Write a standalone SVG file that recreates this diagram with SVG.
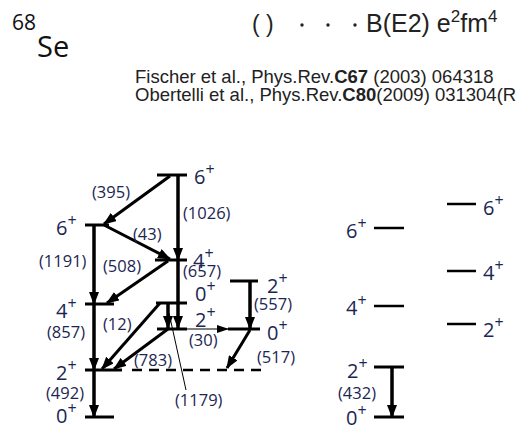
<svg xmlns="http://www.w3.org/2000/svg" width="523" height="428" viewBox="0 0 523 428">
<defs>
<marker id="ah" markerUnits="userSpaceOnUse" markerWidth="13" markerHeight="10" refX="12" refY="5" orient="auto"><path d="M0,0 L13,5 L0,10 z" fill="#000"/></marker>
<marker id="ahs" markerUnits="userSpaceOnUse" markerWidth="12" markerHeight="8" refX="11" refY="4" orient="auto"><path d="M0,0 L12,4 L0,8 z" fill="#000"/></marker>
</defs>
<style>
.lv{stroke:#000;stroke-width:3;fill:none}
.lt{stroke:#000;stroke-width:2.5;fill:none}
.tr{stroke:#000;stroke-width:3.5;fill:none}
.dg{stroke:#000;stroke-width:3;fill:none}
.th{stroke:#000;stroke-width:1;fill:none}
.sp{font-family:"Open Sans","DejaVu Sans",sans-serif;font-size:20px;fill:#1c2652}
.sup{font-size:16px}
.e{font-family:"Open Sans","DejaVu Sans",sans-serif;font-size:16.5px;fill:#1c2652}
.hd{font-family:"Liberation Sans",Arial,sans-serif;fill:#222}
</style>
<g id="header">
<text x="12" y="30" style="font-family:'Open Sans','DejaVu Sans',sans-serif;font-size:21px;fill:#111">68</text>
<text x="37" y="57" style="font-family:'Open Sans','DejaVu Sans',sans-serif;font-size:29px;fill:#111">Se</text>
<text class="hd" x="252" y="32" font-size="23">(  )</text>
<circle cx="302" cy="25" r="1.7" fill="#222"/>
<circle cx="328" cy="25" r="1.7" fill="#222"/>
<circle cx="355" cy="25" r="1.7" fill="#222"/>
<text class="hd" x="366" y="32" font-size="25">B(E2) e<tspan font-size="17" dy="-10">2</tspan><tspan dy="10">fm</tspan><tspan font-size="17" dy="-10">4</tspan></text>
<text class="hd" x="135" y="83" font-size="18.5">Fischer et al., Phys.Rev.<tspan font-weight="bold">C67</tspan> (2003) 064318</text>
<text class="hd" x="135" y="101" font-size="18.5">Obertelli et al., Phys.Rev.<tspan font-weight="bold">C80</tspan>(2009) 031304(R</text>
</g>
<g id="levels-exp">
<line class="lv" x1="157" y1="175" x2="187" y2="175"/>
<line class="lv" x1="85" y1="225" x2="109" y2="225"/>
<line class="lv" x1="155" y1="260" x2="187" y2="260"/>
<line class="lv" x1="85" y1="304" x2="114" y2="304"/>
<line class="lv" x1="156" y1="303" x2="187" y2="303"/>
<line class="lv" x1="157" y1="329" x2="187" y2="329"/>
<line class="lv" x1="228" y1="329" x2="260" y2="329"/>
<line class="lv" x1="230" y1="281" x2="258" y2="281"/>
<line class="lv" x1="85" y1="370" x2="122" y2="370"/>
<line class="lt" x1="132" y1="370" x2="262" y2="370" stroke-dasharray="10,7"/>
<line class="lv" x1="85" y1="417" x2="114" y2="417"/>
</g>
<g id="levels-theory1">
<line class="lt" x1="374" y1="228" x2="404" y2="228"/>
<line class="lt" x1="374" y1="306" x2="404" y2="306"/>
<line class="lv" x1="374" y1="367" x2="404" y2="367"/>
<line class="lv" x1="374" y1="417" x2="404" y2="417"/>
</g>
<g id="levels-theory2">
<line class="lt" x1="447" y1="204" x2="476" y2="204"/>
<line class="lt" x1="447" y1="271" x2="476" y2="271"/>
<line class="lt" x1="447" y1="324" x2="476" y2="324"/>
</g>
<g id="connectors">
<line class="tr" x1="178" y1="175" x2="178" y2="260" marker-end="url(#ah)"/>
<line class="dg" x1="170" y1="176" x2="104" y2="224" marker-end="url(#ah)"/>
<line class="dg" x1="104" y1="225" x2="170" y2="259" marker-end="url(#ah)"/>
<line class="dg" x1="168" y1="261" x2="107" y2="303" marker-end="url(#ah)"/>
<line class="tr" x1="94" y1="225" x2="94" y2="304" marker-end="url(#ah)"/>
<line class="tr" x1="94" y1="304" x2="94" y2="370" marker-end="url(#ah)"/>
<line class="tr" x1="94" y1="370" x2="94" y2="417" marker-end="url(#ah)"/>
<line class="tr" x1="178" y1="260" x2="178" y2="328" marker-end="url(#ah)"/>
<line class="tr" x1="168" y1="303" x2="168" y2="328" marker-end="url(#ah)"/>
<line class="dg" x1="160" y1="303" x2="102" y2="369" marker-end="url(#ah)"/>
<line class="dg" x1="168" y1="329" x2="114" y2="369" marker-end="url(#ah)"/>
<line class="th" x1="187" y1="329" x2="228" y2="329" marker-end="url(#ahs)"/>
<line class="tr" x1="250" y1="281" x2="250" y2="329" marker-end="url(#ah)"/>
<line class="dg" x1="250" y1="330" x2="227" y2="368" marker-end="url(#ah)"/>
<line class="tr" x1="392" y1="367" x2="392" y2="417" marker-end="url(#ah)"/>
<line class="th" x1="169" y1="313" x2="186" y2="390"/>
</g>
<g id="labels">
<text class="sp" x="194" y="184">6<tspan class="sup" dy="-9">+</tspan></text>
<text class="sp" x="56" y="235">6<tspan class="sup" dy="-9">+</tspan></text>
<text class="sp" x="193" y="268">4<tspan class="sup" dy="-9">+</tspan></text>
<text class="sp" x="195" y="301">0<tspan class="sup" dy="-9">+</tspan></text>
<text class="sp" x="195" y="327">2<tspan class="sup" dy="-9">+</tspan></text>
<text class="sp" x="267" y="293">2<tspan class="sup" dy="-9">+</tspan></text>
<text class="sp" x="267" y="340">0<tspan class="sup" dy="-9">+</tspan></text>
<text class="sp" x="56" y="318">4<tspan class="sup" dy="-9">+</tspan></text>
<text class="sp" x="56" y="380">2<tspan class="sup" dy="-9">+</tspan></text>
<text class="sp" x="56" y="423">0<tspan class="sup" dy="-9">+</tspan></text>
<text class="sp" x="346" y="238">6<tspan class="sup" dy="-9">+</tspan></text>
<text class="sp" x="346" y="315">4<tspan class="sup" dy="-9">+</tspan></text>
<text class="sp" x="347" y="378">2<tspan class="sup" dy="-9">+</tspan></text>
<text class="sp" x="346" y="425">0<tspan class="sup" dy="-9">+</tspan></text>
<text class="sp" x="483" y="215">6<tspan class="sup" dy="-9">+</tspan></text>
<text class="sp" x="483" y="280">4<tspan class="sup" dy="-9">+</tspan></text>
<text class="sp" x="483" y="337">2<tspan class="sup" dy="-9">+</tspan></text>
<text class="e" x="92" y="198">(395)</text>
<text class="e" x="183" y="219">(1026)</text>
<text class="e" x="133" y="240">(43)</text>
<text class="e" x="39" y="267">(1191)</text>
<text class="e" x="103" y="272">(508)</text>
<text class="e" x="183" y="277">(657)</text>
<text class="e" x="254" y="310">(557)</text>
<text class="e" x="103" y="330">(12)</text>
<text class="e" x="47" y="338">(857)</text>
<text class="e" x="189" y="346">(30)</text>
<text class="e" x="257" y="363">(517)</text>
<text class="e" x="134" y="366">(783)</text>
<text class="e" x="46" y="399">(492)</text>
<text class="e" x="338" y="399">(432)</text>
<text class="e" x="175" y="406">(1179)</text>
</g>
</svg>
